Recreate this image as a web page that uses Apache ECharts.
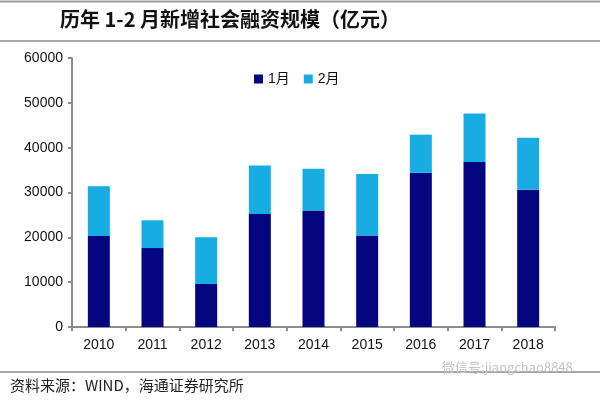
<!DOCTYPE html>
<html><head><meta charset="utf-8">
<script src="https://cdn.jsdelivr.net/npm/echarts@6/dist/echarts.min.js"></script>
<style>html,body{margin:0;padding:0;background:#fff}#c{width:600px;height:404px}</style>
</head><body><div id="c"></div>
<script>
const categories = ['2010','2011','2012','2013','2014','2015','2016','2017','2018'];
const jan = [20300, 17600, 9600, 25200, 26000, 20400, 34400, 36800, 30600];
const feb = [11100, 6200, 10400, 10800, 9300, 13700, 8500, 10800, 11600];
const seriesNames = ['1月','2月'];
const yTicks = {min:0, max:60000, interval:10000};
const titleText = '历年 1-2 月新增社会融资规模（亿元）';
const sourceText = '资料来源：WIND，海通证券研究所';
const watermark = '微信号:jiangchao8848';

const chart = echarts.init(document.getElementById('c'));
const font = '"Liberation Sans", Arial, "Noto Sans CJK SC", sans-serif';
chart.setOption({
  animation:false,
  backgroundColor:'#fff',
  textStyle:{fontFamily:font},
  grid:{left:72, right:45, top:58, bottom:77},
  legend:{
    data:seriesNames, left:249, top:67, itemWidth:9, itemHeight:9, itemGap:14,
    icon:'rect', textStyle:{fontSize:14, color:'#111', fontFamily:font}
  },
  xAxis:{
    type:'category', data:categories,
    axisLine:{lineStyle:{color:'#8c8c8c', width:2}},
    axisTick:{show:true, length:4, lineStyle:{color:'#8c8c8c', width:2}},
    axisLabel:{fontSize:14, color:'#111', margin:11}
  },
  yAxis:{
    type:'value', min:yTicks.min, max:yTicks.max, interval:yTicks.interval,
    axisLine:{show:true, lineStyle:{color:'#8c8c8c', width:2}},
    axisTick:{show:true, length:4, lineStyle:{color:'#8c8c8c', width:2}},
    splitLine:{show:false},
    axisLabel:{fontSize:14, color:'#111', margin:9, formatter:v=>String(v)}
  },
  series:[
    {name:seriesNames[0], type:'bar', stack:'s', data:jan, barWidth:22, itemStyle:{color:'#050580'}},
    {name:seriesNames[1], type:'bar', stack:'s', data:feb, barWidth:22, itemStyle:{color:'#18ade2'}}
  ],
  graphic:[
    {type:'line', shape:{x1:0,y1:1.5,x2:600,y2:1.5}, style:{stroke:'#999', lineWidth:2}},
    {type:'line', shape:{x1:0,y1:41,x2:600,y2:41}, style:{stroke:'#888', lineWidth:1.5}},
    {type:'text', left:60, top:9, style:{text:titleText, font:'bold 20px "Noto Sans CJK SC", sans-serif', fill:'#111'}},
    {type:'line', shape:{x1:0,y1:372,x2:600,y2:372}, style:{stroke:'#888', lineWidth:1.5}},
    {type:'text', left:10, top:378, style:{text:sourceText, font:'15px "Noto Sans CJK SC", sans-serif', fill:'#222'}},
    {type:'text', left:442, top:361, style:{text:watermark, font:'13px "Noto Sans CJK SC", sans-serif', fill:'#c4c4c4'}}
  ]
});
</script></body></html>
